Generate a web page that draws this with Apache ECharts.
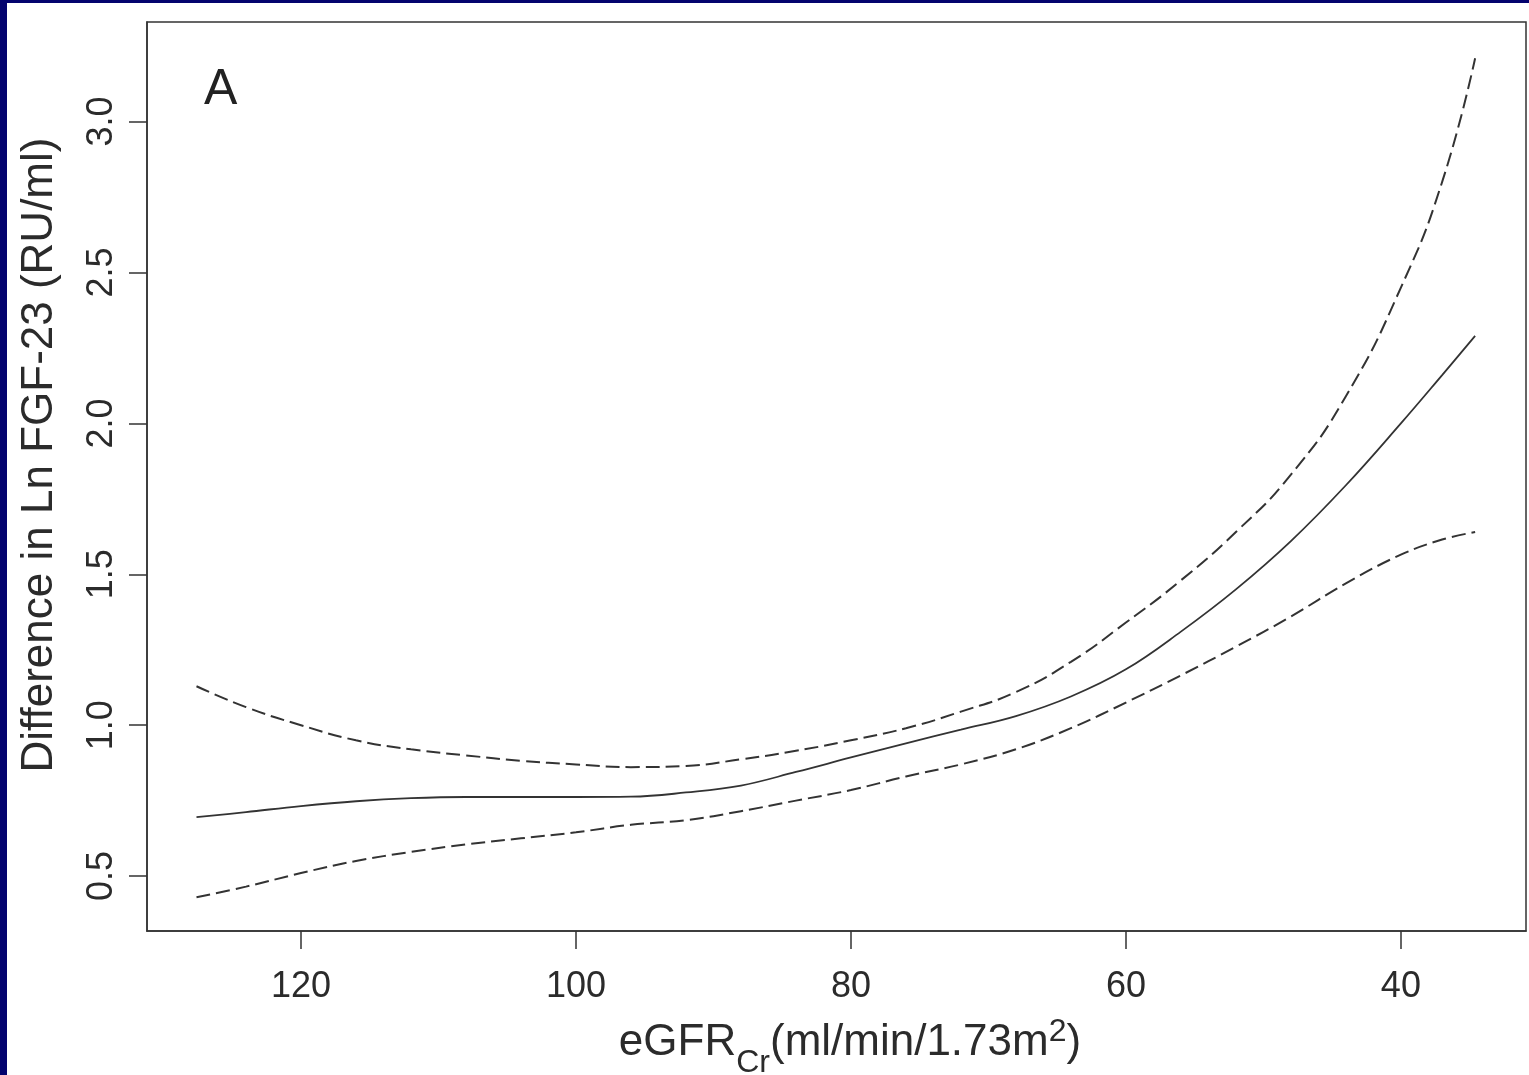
<!DOCTYPE html>
<html>
<head>
<meta charset="utf-8">
<script src="https://cdn.jsdelivr.net/npm/echarts@6/dist/echarts.min.js"></script>
<style>
  html, body { margin: 0; padding: 0; background: #ffffff; overflow: hidden; }
  #frame { position: absolute; left: 0; top: 0; width: 1529px; height: 1075px; background: #ffffff;
           border-left: 7px solid #03036e; border-top: 3px solid #03036e; box-sizing: border-box; }
  #chart { position: absolute; left: 0; top: 0; width: 1529px; height: 1075px; }
</style>
</head>
<body>
<div id="frame"></div>
<div id="chart"></div>
<script>
// eGFR (ml/min/1.73m2) grid of the spline fit
const egfr = [127.6, 124, 120, 116, 112, 108, 104, 100, 96, 92, 88, 84, 80, 76, 72, 68, 64, 60, 56, 52, 48, 44, 40, 37, 34.6];
// fitted difference in ln FGF-23
const fit = [0.695, 0.712, 0.732, 0.748, 0.758, 0.762, 0.762, 0.762, 0.763, 0.777, 0.80, 0.845, 0.893, 0.94, 0.985, 1.03, 1.095, 1.185, 1.31, 1.45, 1.61, 1.795, 2.00, 2.16, 2.29];
// upper and lower confidence bands
const upper = [1.129, 1.06, 1.00, 0.95, 0.92, 0.90, 0.882, 0.87, 0.861, 0.865, 0.887, 0.915, 0.95, 0.99, 1.045, 1.11, 1.21, 1.34, 1.48, 1.64, 1.83, 2.09, 2.45, 2.80, 3.21];
const lower = [0.43, 0.465, 0.51, 0.55, 0.58, 0.605, 0.625, 0.645, 0.67, 0.685, 0.715, 0.75, 0.785, 0.83, 0.87, 0.92, 0.99, 1.075, 1.165, 1.26, 1.36, 1.47, 1.565, 1.615, 1.64];
// tick labels
const xTicks = [120, 100, 80, 60, 40];
const yTicks = [0.5, 1.0, 1.5, 2.0, 2.5, 3.0];

const pairs = arr => egfr.map((e, i) => [e, arr[i]]);
const ink = '#2b2b2b';
const font = 'Liberation Sans, Arial, Helvetica, sans-serif';

const chart = echarts.init(document.getElementById('chart'), null, { renderer: 'canvas' });
chart.setOption({
  backgroundColor: 'transparent',
  animation: false,
  title: {
    text: 'A', left: 199, top: 60,
    textStyle: { fontFamily: font, fontSize: 50, fontWeight: 'normal', color: '#222' }
  },
  graphic: [
    {
      type: 'text', x: 40, y: 455, rotation: Math.PI / 2,
      style: { text: 'Difference in Ln FGF-23 (RU/ml)', fontFamily: font, fontSize: 44, fill: ink,
               align: 'center', verticalAlign: 'middle' }
    },
    {
      type: 'text', x: 850, y: 1041,
      style: {
        text: '{t|eGFR}{sub|Cr}{t|(ml/min/1.73m}{sup|2}{t|)}',
        align: 'center', verticalAlign: 'middle',
        rich: {
          t: { fontFamily: font, fontSize: 44, fill: ink, verticalAlign: 'bottom', lineHeight: 48 },
          sub: { fontFamily: font, fontSize: 32, fill: ink, padding: [0, 0, -14, 0], verticalAlign: 'bottom', lineHeight: 48 },
          sup: { fontFamily: font, fontSize: 32, fill: ink, padding: [0, 0, 17, 0], verticalAlign: 'bottom', lineHeight: 48 }
        }
      }
    }
  ],
  grid: { left: 147, right: 3, top: 22, bottom: 144, show: true, borderColor: '#333', borderWidth: 1.5, backgroundColor: 'transparent' },
  xAxis: {
    type: 'value', inverse: true, min: 30.9, max: 131.2,
    splitLine: { show: false },
    axisLine: { lineStyle: { color: '#333', width: 1.5 } },
    axisTick: { length: 18, lineStyle: { color: '#333', width: 1.5 }, customValues: xTicks },
    axisLabel: { customValues: xTicks, margin: 38, fontFamily: font, fontSize: 36, color: ink,
                 formatter: v => String(v) }
  },
  yAxis: {
    type: 'value', min: 0.318, max: 3.33,
    splitLine: { show: false },
    axisLine: { lineStyle: { color: '#333', width: 1.5 } },
    axisTick: { length: 18, lineStyle: { color: '#333', width: 1.5 }, customValues: yTicks },
    axisLabel: { customValues: yTicks, rotate: 90, margin: 27, fontFamily: font, fontSize: 36, color: ink,
                 formatter: v => v.toFixed(1) }
  },
  series: [
    { name: 'fit', type: 'line', data: pairs(fit), smooth: 0.4, symbol: 'none',
      lineStyle: { color: '#333', width: 1.8 } },
    { name: 'upper', type: 'line', data: pairs(upper), smooth: 0.5, symbol: 'none',
      lineStyle: { color: '#333', width: 2, type: [14, 6] } },
    { name: 'lower', type: 'line', data: pairs(lower), smooth: 0.4, symbol: 'none',
      lineStyle: { color: '#333', width: 2, type: [14, 6] } }
  ]
});
</script>
</body>
</html>
